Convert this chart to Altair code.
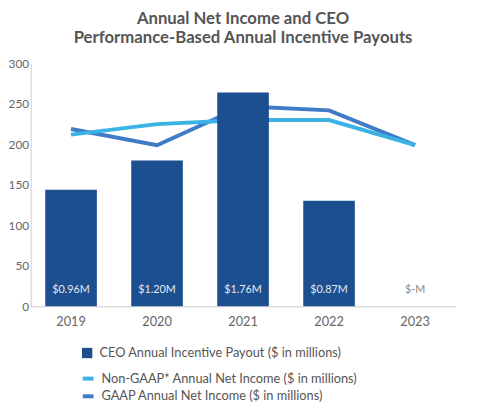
import pandas as pd
import altair as alt

# values
years = ["2019", "2020", "2021", "2022", "2023"]
payout = [0.96, 1.20, 1.76, 0.87, 0.0]          # CEO payout, $M (right axis)
payout_labels = ["$0.96M", "$1.20M", "$1.76M", "$0.87M", "$-M"]
non_gaap = [212, 225, 230, 230, 199]             # net income, $M (left axis)
gaap = [219, 199, 247, 242, 199]

bar_name = "CEO Annual Incentive Payout ($ in millions)"
non_gaap_name = "Non-GAAP* Annual Net Income ($ in millions)"
gaap_name = "GAAP Annual Net Income ($ in millions)"

FONT = "Lato"
GREY = "#666666"

bars_df = pd.DataFrame({
    "year": years,
    "payout": payout,
    "label": payout_labels,
    "series": [bar_name] * len(years),
})
gaap_df = pd.DataFrame({"year": years, "income": gaap, "series": gaap_name})
non_gaap_df = pd.DataFrame({"year": years, "income": non_gaap, "series": non_gaap_name})

x_enc = alt.X(
    "year:N",
    sort=years,
    scale=alt.Scale(paddingInner=0.4, paddingOuter=0.17),
    axis=alt.Axis(title=None, labelAngle=0, ticks=False, domainColor="#cccccc",
                  labelPadding=10, labelFontSize=13, labelColor=GREY, labelFont=FONT),
)

line_stroke = alt.Stroke(
    "series:N",
    scale=alt.Scale(domain=[non_gaap_name, gaap_name], range=["#3bb3e6", "#3f7bc6"]),
    legend=alt.Legend(title=None, orient="none", legendX=51, legendY=313,
                      symbolType="stroke", symbolStrokeWidth=4, symbolSize=120,
                      labelFont=FONT, labelFontSize=13, labelColor="#555555",
                      labelLimit=0, rowPadding=1, labelOffset=6),
)
income_y = alt.Y(
    "income:Q",
    scale=alt.Scale(domain=[0, 300]),
    axis=alt.Axis(title=None, orient="left", values=[0, 50, 100, 150, 200, 250, 300],
                  ticks=False, grid=False, domainColor="#cccccc", labelPadding=2,
                  labelFontSize=12, labelColor=GREY, labelFont=FONT),
)

gaap_line = alt.Chart(gaap_df).mark_line(strokeWidth=4).encode(
    x=x_enc, y=income_y, stroke=line_stroke)
non_gaap_line = alt.Chart(non_gaap_df).mark_line(strokeWidth=4).encode(
    x=x_enc, y=income_y, stroke=line_stroke)
lines = alt.layer(gaap_line, non_gaap_line)

payout_y = alt.Y(
    "payout:Q",
    scale=alt.Scale(domain=[0, 2]),
    axis=alt.Axis(title=None, orient="right", values=[i / 5 for i in range(11)],
                  format=".1f", tickSize=4, tickColor="#cccccc", grid=False,
                  domainColor="#cccccc", labelPadding=3, labelFontSize=12,
                  labelColor=GREY, labelFont=FONT),
)
bar_marks = alt.Chart(bars_df).mark_bar(color="#1c4f8f").encode(
    x=x_enc,
    y=payout_y,
    fill=alt.Fill(
        "series:N",
        scale=alt.Scale(domain=[bar_name], range=["#1c4f8f"]),
        legend=alt.Legend(title=None, orient="none", legendX=51, legendY=288,
                          symbolType="square", symbolSize=110,
                          labelFont=FONT, labelFontSize=13, labelColor="#555555",
                          labelLimit=0, labelOffset=6),
    ),
)
bar_text = alt.Chart(bars_df).mark_text(
    font=FONT, fontSize=11, dy=-17, baseline="middle"
).encode(
    x=x_enc,
    y=alt.Y("zero:Q", scale=alt.Scale(domain=[0, 2]), axis=None),
    text="label:N",
    color=alt.condition(alt.datum.payout > 0, alt.value("#e6e9f2"), alt.value("#888888")),
).transform_calculate(zero="0")
bars = alt.layer(bar_marks, bar_text)

chart = alt.layer(lines, bars).resolve_scale(
    y="independent", fill="independent", stroke="independent"
).properties(
    width=432,
    height=247,
    autosize=alt.AutoSizeParams(type="none"),
    padding={"left": 23, "top": 53, "right": 29, "bottom": 95},
    title=alt.Title(
        ["Annual Net Income and CEO", "Performance-Based Annual Incentive Payouts"],
        font=FONT, fontSize=17, fontWeight="bold", color="#555555",
        lineHeight=19, offset=11, anchor="middle",
    ),
).configure_view(stroke=None)

chart.save("out.html", embed_options={"renderer": "svg", "actions": False})
